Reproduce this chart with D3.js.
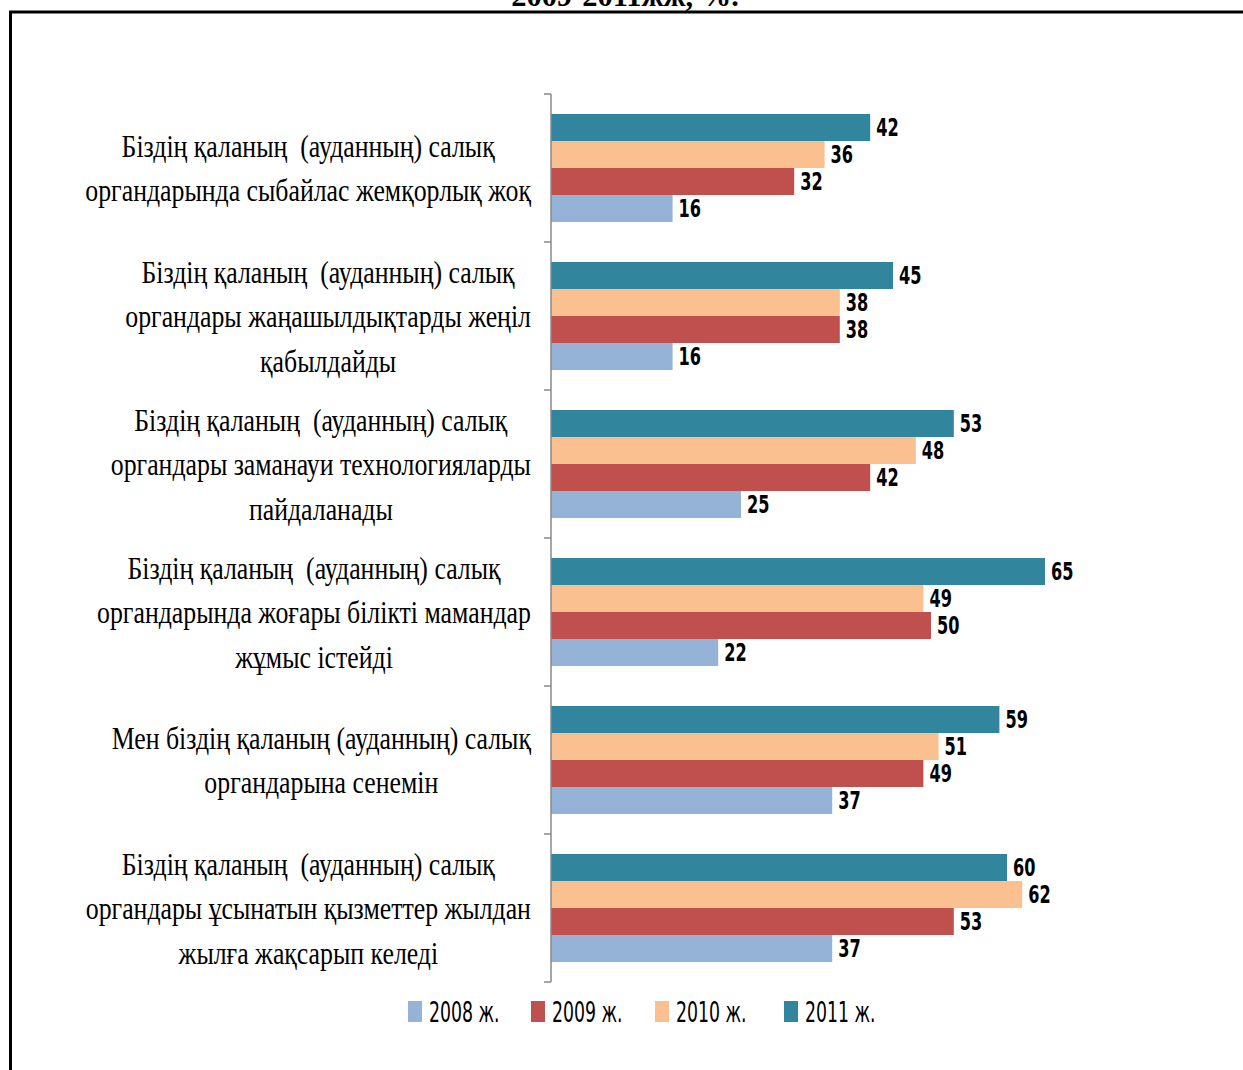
<!DOCTYPE html>
<html>
<head>
<meta charset="utf-8">
<script src="https://cdn.jsdelivr.net/npm/d3@7"></script>
<style>
  html, body { margin: 0; padding: 0; background: #fff; }
  svg { display: block; }
  text { white-space: pre; }
</style>
</head>
<body>
<svg id="chart" width="1243" height="1070"></svg>
<script>
// Category labels (each entry is split into its printed lines)
const categories = [
  ["Біздің қаланың  (ауданның) салық", "органдарында сыбайлас жемқорлық жоқ"],
  ["Біздің қаланың  (ауданның) салық", "органдары жаңашылдықтарды жеңіл", "қабылдайды"],
  ["Біздің қаланың  (ауданның) салық", "органдары заманауи технологияларды", "пайдаланады"],
  ["Біздің қаланың  (ауданның) салық", "органдарында жоғары білікті мамандар", "жұмыс істейді"],
  ["Мен біздің қаланың (ауданның) салық", "органдарына сенемін"],
  ["Біздің қаланың  (ауданның) салық", "органдары ұсынатын қызметтер жылдан", "жылға жақсарып келеді"]
];
const years = ["2008 ж.", "2009 ж.", "2010 ж.", "2011 ж."];
const v2008 = [16, 16, 25, 22, 37, 37];
const v2009 = [32, 38, 42, 50, 49, 53];
const v2010 = [36, 38, 48, 49, 51, 62];
const v2011 = [42, 45, 53, 65, 59, 60];
const seriesValues = [v2008, v2009, v2010, v2011];
const colors = ["#95B3D7", "#C0504D", "#FAC090", "#31859C"];
const title = "2009-2011жж, %.";

const narrow = "Liberation Sans Narrow, DejaVu Sans Condensed, Arial Narrow, sans-serif";
const serif = "Liberation Serif, Times New Roman, serif";

const svg = d3.select("#chart");

// Frame around the figure and its caption running off the top edge
svg.append("text")
  .attr("transform", "translate(625,6) scale(1.05,1)")
  .attr("text-anchor", "middle")
  .attr("font-family", serif)
  .attr("font-weight", "bold")
  .attr("font-size", 29)
  .text(title);
svg.append("rect")
  .attr("x", 10.5).attr("y", 12)
  .attr("width", 1300).attr("height", 1200)
  .attr("fill", "none")
  .attr("stroke", "#000")
  .attr("stroke-width", 3);

const idx = categories.map((d, i) => i);
const y = d3.scaleBand().domain(idx).range([94, 982]).padding(0);
const inner = d3.scaleBand().domain([3, 2, 1, 0]).range([20, y.bandwidth() - 20]).padding(0);
const x = d3.scaleLinear().domain([0, 100]).range([551, 551 + 760]);

// Bars
const rows = [];
idx.forEach(i => seriesValues.forEach((s, k) => rows.push({ cat: i, series: k, value: s[i] })));

const g = svg.append("g");
g.selectAll("rect.bar").data(rows).join("rect")
  .attr("class", "bar")
  .attr("x", x(0))
  .attr("y", d => y(d.cat) + inner(d.series))
  .attr("width", d => x(d.value) - x(0))
  .attr("height", inner.bandwidth())
  .attr("fill", d => colors[d.series]);

// Value labels
g.selectAll("text.val").data(rows).join("text")
  .attr("class", "val")
  .attr("transform", d => `translate(${x(d.value) + 6},${y(d.cat) + inner(d.series) + inner.bandwidth() / 2}) scale(0.78,1.05)`)
  .attr("dy", "0.36em")
  .attr("font-family", narrow)
  .attr("font-weight", "bold")
  .attr("font-size", 23)
  .attr("fill", "#000")
  .text(d => d.value);

// Vertical category axis with ticks at band boundaries
const axisG = svg.append("g");
const bounds = idx.map(i => y(i)).concat([y(idx[idx.length - 1]) + y.bandwidth()]);
axisG.append("line")
  .attr("x1", x(0)).attr("x2", x(0))
  .attr("y1", bounds[0]).attr("y2", bounds[bounds.length - 1])
  .attr("stroke", "#898989").attr("stroke-width", 1.5);
axisG.selectAll("line.tick").data(bounds).join("line")
  .attr("class", "tick")
  .attr("x1", x(0) - 7).attr("x2", x(0))
  .attr("y1", d => d).attr("y2", d => d)
  .attr("stroke", "#898989").attr("stroke-width", 1.5);

// Category labels: centred lines, block right-aligned near the axis
const lineH = 44.5;
const sx = 0.86;
const labelRight = 531;
categories.forEach((lines, i) => {
  const cy = y(i) + y.bandwidth() / 2;
  const grp = svg.append("g");
  const texts = grp.selectAll("text").data(lines).join("text")
    .attr("font-family", serif)
    .attr("font-size", 30)
    .attr("text-anchor", "middle")
    .attr("fill", "#000")
    .text(d => d);
  let maxW = 0;
  texts.each(function () { maxW = Math.max(maxW, this.getComputedTextLength()); });
  const cx = labelRight - maxW * sx / 2;
  texts
    .attr("transform", (d, j) => {
      const ty = cy + (j - (lines.length - 1) / 2) * lineH;
      return `translate(${cx},${ty}) scale(${sx},1.05)`;
    })
    .attr("dy", "0.35em");
});

// Legend
const legend = svg.append("g").attr("transform", "translate(408,1001)");
const legX = [0, 123, 247, 376];
years.forEach((yr, k) => {
  const it = legend.append("g").attr("transform", `translate(${legX[k]},0)`);
  it.append("rect").attr("width", 14).attr("height", 21).attr("fill", colors[k]);
  it.append("text")
    .attr("transform", "translate(21,10.5) scale(0.74,1.1)")
    .attr("dy", "0.36em")
    .attr("font-family", narrow)
    .attr("font-size", 26)
    .attr("fill", "#000")
    .text(yr);
});
</script>
</body>
</html>
